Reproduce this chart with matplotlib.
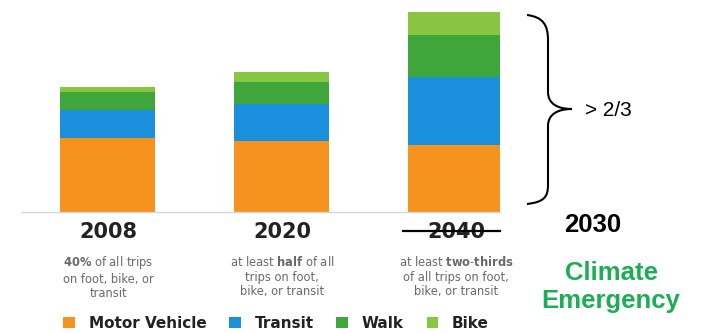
"""
Stacked mode-share bars with target annotations
"""

import matplotlib.pyplot as plt
from matplotlib.path import Path
from matplotlib.patches import PathPatch
from matplotlib.lines import Line2D
from matplotlib.transforms import Affine2D

# ---------------------------------------------------------------------------- #
# Data
# ---------------------------------------------------------------------------- #

years = ['2008', '2020', '2040']
motor_vehicle = [74, 71, 67]
transit = [28, 37, 68]
walk = [18, 22, 42]
bike = [5, 10, 23]

modes = ['Motor Vehicle', 'Transit', 'Walk', 'Bike']
colours = ['#F6921E', '#1A90DC', '#3FA63C', '#88C541']

subtitles = [r'$\mathbf{40\%}$ of all trips' + '\non foot, bike, or\ntransit',
             r'at least $\mathbf{half}$ of all' + '\ntrips on foot,\nbike, or transit',
             r'at least $\mathbf{two}$-$\mathbf{thirds}$' + '\nof all trips on foot,\nbike, or transit']

# ---------------------------------------------------------------------------- #
# Figure
# ---------------------------------------------------------------------------- #

W, H = 702, 334
plt.rcParams['font.family'] = ['DejaVu Sans']
plt.rcParams['mathtext.fontset'] = 'custom'
plt.rcParams['mathtext.rm'] = 'DejaVu Sans'
plt.rcParams['mathtext.bf'] = 'DejaVu Sans:bold'

fig = plt.figure(figsize=(W / 100, H / 100), dpi=100)
# pixel coordinates with origin at top left
px = Affine2D().scale(1 / W, -1 / H).translate(0, 1) + fig.transFigure

ax = fig.add_axes([22 / W, (H - 212) / H, 478 / W, 202 / H])

x = range(len(years))
bottom = [0, 0, 0]
handles = []
for series, colour, mode in zip([motor_vehicle, transit, walk, bike], colours, modes):
    h = ax.bar(x, series, width=0.546, bottom=bottom, color=colour, label=mode)
    handles.append(h)
    bottom = [b + s for b, s in zip(bottom, series)]

ax.set_xlim(-0.494, 2.253)
ax.set_ylim(0, 202)
for side in ['top', 'left', 'right']:
    ax.spines[side].set_visible(False)
ax.spines['bottom'].set_color('#d6d6d6')
ax.spines['bottom'].set_linewidth(1.0)
ax.set_yticks([])
ax.set_xticks(list(x), years, fontsize=15, fontweight='bold', color='#222222')
ax.tick_params(axis='x', length=0, pad=7)

# explanatory text under each year
for i, text in enumerate(subtitles):
    ax.annotate(text, xy=(i, 0), xytext=(0, -65), textcoords='offset pixels',
                ha='center', va='center', multialignment='center',
                fontsize=8.3, color='#6a6a6a', linespacing=1.15)

# 2040 crossed out and replaced by 2030
fig.add_artist(Line2D([403, 500], [231, 231], transform=px, color='black', lw=1.6))
fig.text(593 / W, 1 - 225 / H, '2030', ha='center', va='center',
         fontsize=18.5, fontweight='bold', family='Liberation Sans')
fig.text(611 / W, 1 - 287 / H, 'Climate\nEmergency', ha='center', va='center',
         fontsize=18.5, fontweight='bold', family='Liberation Sans',
         color='#1DAE55', linespacing=1.25)

# curly brace over the 2040 bar
verts = [(527, 15), (543, 17), (548, 25), (548, 40),
         (548, 92),
         (548, 104), (558, 109), (572, 109),
         (558, 109), (548, 114), (548, 126),
         (548, 185),
         (548, 198), (543, 202), (527, 204)]
codes = [Path.MOVETO, Path.CURVE4, Path.CURVE4, Path.CURVE4,
         Path.LINETO,
         Path.CURVE4, Path.CURVE4, Path.CURVE4,
         Path.CURVE4, Path.CURVE4, Path.CURVE4,
         Path.LINETO,
         Path.CURVE4, Path.CURVE4, Path.CURVE4]
fig.add_artist(PathPatch(Path(verts, codes), transform=px, fill=False,
                         edgecolor='black', lw=1.5))
fig.text(585 / W, 1 - 110 / H, '> 2/3', ha='left', va='center',
         fontsize=15, family='Liberation Sans')

# legend along the bottom
leg = ax.legend(handles=handles, loc='center', bbox_to_anchor=(276 / W, 1 - 323 / H),
                bbox_transform=fig.transFigure, ncol=4, frameon=False,
                handlelength=0.75, handleheight=0.75, handletextpad=0.9,
                columnspacing=1.5, prop={'weight': 'bold', 'size': 11})
for t in leg.get_texts():
    t.set_color('#222222')

fig.savefig('out.png', dpi=100)
plt.close()
